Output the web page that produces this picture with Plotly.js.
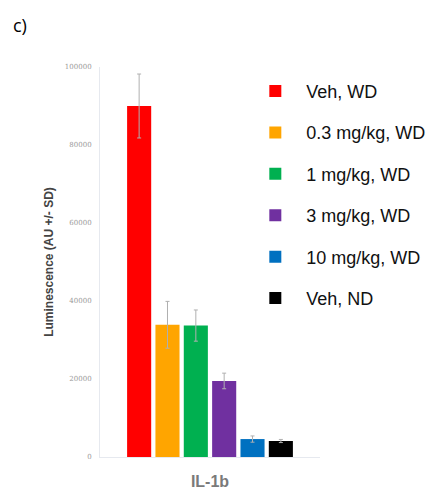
<!DOCTYPE html>
<html><head><meta charset="utf-8">
<script src="https://cdn.plot.ly/plotly-3.0.1.min.js"></script>
<style>html,body{margin:0;padding:0;background:#fff}</style>
</head><body>
<div id="chart" style="width:434px;height:496px"></div>
<script>
const category = ["IL-1b"];
const groups = ["Veh, WD", "0.3 mg/kg, WD", "1 mg/kg, WD", "3 mg/kg, WD", "10 mg/kg, WD", "Veh, ND"];
const values = [90000, 33900, 33700, 19500, 4600, 4100];
const sd = [8200, 6000, 4000, 2000, 800, 400];
const colors = ["#ff0000", "#ffa500", "#00b050", "#7030a0", "#0070c0", "#000000"];

const traces = groups.map((g, i) => ({
  type: "bar",
  name: g,
  x: category,
  y: [values[i]],
  marker: {color: colors[i]},
  error_y: {type: "data", array: [sd[i]], visible: true, color: "#b0b0b0", thickness: 1, width: 2},
  legendgroup: "g" + i
}));

const layout = {
  width: 434, height: 496,
  margin: {l: 100, r: 114, t: 67, b: 39, autoexpand: false},
  paper_bgcolor: "#fff", plot_bgcolor: "#fff",
  barmode: "group", bargap: 0.227, bargroupgap: 0.15,
  showlegend: true,
  legend: {x: 0.656, xanchor: "left", y: 0.985, yanchor: "top", itemwidth: 52, font: {family: "Liberation Sans, Arial", size: 18, color: "#111"}, tracegroupgap: 15, bgcolor: "rgba(0,0,0,0)"},
  xaxis: {showline: true, linecolor: "#e6e9ef", linewidth: 1, ticks: "", ticklabelstandoff: 10, tickfont: {family: "Liberation Sans, Arial", size: 16, color: "#7a7a7a", weight: "bold"}, showgrid: false, zeroline: false},
  yaxis: {range: [0, 100000], dtick: 20000, showline: true, linecolor: "#e6e9ef", showgrid: false, zeroline: false, ticks: "", ticklabelstandoff: 6, tickfont: {family: "DejaVu Serif, serif", size: 7, color: "#999"}, tickformat: "d",
    title: {text: "Luminescence (AU +/- SD)", font: {family: "Liberation Sans, Arial", size: 12, color: "#444", weight: "bold"}, standoff: 8}},
  annotations: [{text: "c)", xref: "paper", yref: "paper", x: -0.364, y: 1.108, xanchor: "center", yanchor: "middle", showarrow: false, font: {family: "Open Sans, Liberation Sans", size: 18, color: "#000"}}]
};
Plotly.newPlot("chart", traces, layout, {displayModeBar: false});
</script>
</body></html>
